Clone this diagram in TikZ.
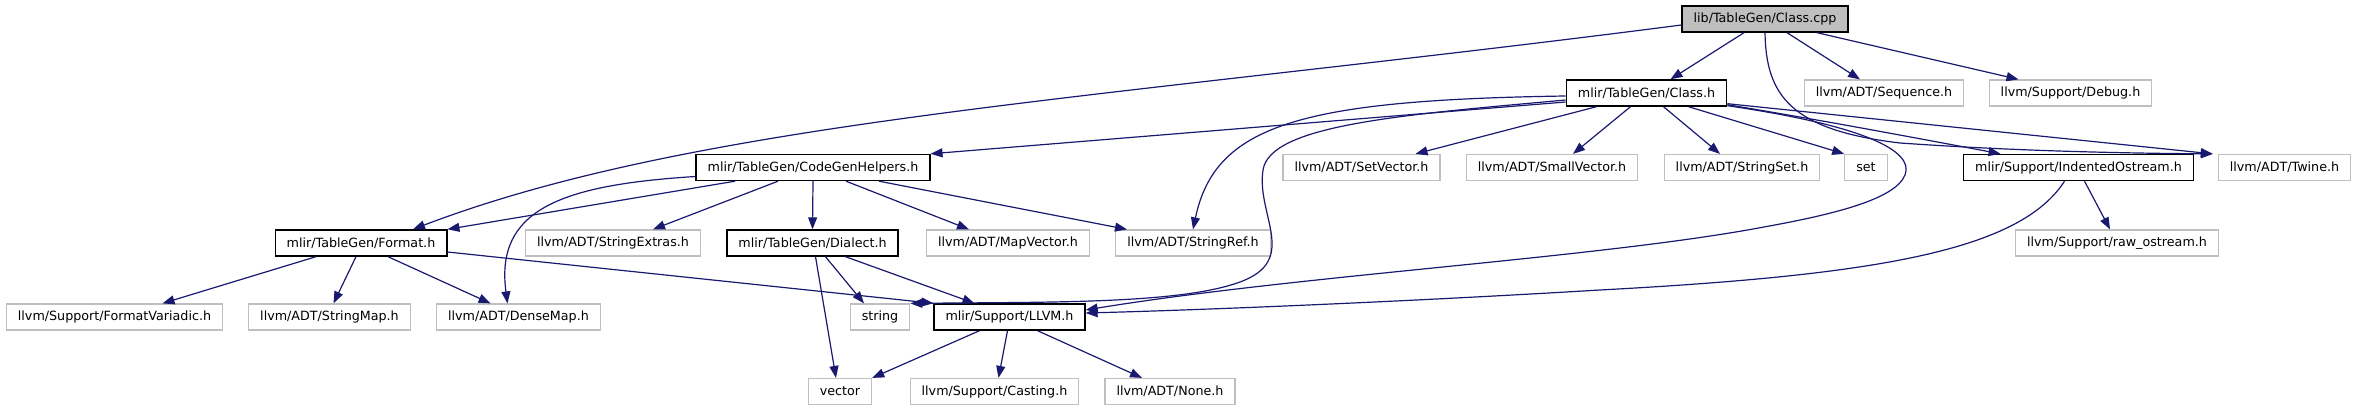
\documentclass[tikz,border=0pt]{standalone}
\usepackage{fontspec}
\setmainfont{DejaVu Sans}
\usetikzlibrary{arrows.meta}
\definecolor{edgeblue}{HTML}{191970}
\definecolor{boxgray}{HTML}{BFBFBF}

\begin{document}
\begin{tikzpicture}
[
	x=1pt, y=-1pt,
	file/.style={rectangle,fill=white,minimum height=26pt,inner xsep=11.5pt,inner ysep=2pt,font=\fontsize{12.7}{15}\selectfont},
	doc/.style={file,draw=black,line width=1.4pt},
	ext/.style={file,draw=boxgray,line width=1.2pt},
	cur/.style={doc,fill=boxgray},
	dep/.style={draw=edgeblue,line width=1.2pt,-{Triangle[length=12pt,width=9pt]}}
]
	\useasboundingbox (0,0) rectangle (2358,411);

	% files
	\node[cur] (cpp) at (1765,19) {lib/TableGen/Class.cpp};
	\node[doc] (classh) at (1646.5,93) {mlir/TableGen/Class.h};
	\node[ext] (seq) at (1884,93) {llvm/ADT/Sequence.h};
	\node[ext] (debug) at (2070.5,93) {llvm/Support/Debug.h};
	\node[doc] (cgh) at (813,167.5) {mlir/TableGen/CodeGenHelpers.h};
	\node[ext] (setvec) at (1361.5,167.5) {llvm/ADT/SetVector.h};
	\node[ext] (smallvec) at (1552,167.5) {llvm/ADT/SmallVector.h};
	\node[ext] (strset) at (1742,167.5) {llvm/ADT/StringSet.h};
	\node[ext] (set) at (1866,167.5) {set};
	\node[doc] (indent) at (2078.5,167.5) {mlir/Support/IndentedOstream.h};
	\node[ext] (twine) at (2284.5,167.5) {llvm/ADT/Twine.h};
	\node[doc] (format) at (361,243) {mlir/TableGen/Format.h};
	\node[ext] (strext) at (613,243) {llvm/ADT/StringExtras.h};
	\node[doc] (dialect) at (812.5,243) {mlir/TableGen/Dialect.h};
	\node[ext] (mapvec) at (1008,243) {llvm/ADT/MapVector.h};
	\node[ext] (strref) at (1193,243) {llvm/ADT/StringRef.h};
	\node[ext] (rawos) at (2117,243) {llvm/Support/raw\_ostream.h};
	\node[ext] (fmtvar) at (114.5,317) {llvm/Support/FormatVariadic.h};
	\node[ext] (strmap) at (329.5,317) {llvm/ADT/StringMap.h};
	\node[ext] (densemap) at (518.5,317) {llvm/ADT/DenseMap.h};
	\node[ext] (string) at (880,317) {string};
	\node[doc] (llvmh) at (1009.5,317) {mlir/Support/LLVM.h};
	\node[ext] (vector) at (840,391.5) {vector};
	\node[ext] (casting) at (994.5,391.5) {llvm/Support/Casting.h};
	\node[ext] (none) at (1170,391.5) {llvm/ADT/None.h};

	% includes of Class.cpp
	\draw[dep] ([yshift=-6pt]cpp.west) .. controls (1100,100) and (700,120) .. ([xshift=52pt]format.north);
	\draw[dep] ([xshift=-21pt]cpp.south) -- ([xshift=24pt]classh.north);
	\draw[dep] ([xshift=22pt]cpp.south) -- ([xshift=-24pt]seq.north);
	\draw[dep] ([xshift=52pt]cpp.south) -- ([xshift=-52pt]debug.north);
	\draw[dep] (cpp.south) .. controls (1766,95) and (1790,130) .. (1900,143) .. controls (2000,150) and (2100,153) .. ([xshift=-5pt]twine.north west);

	% includes of Class.h
	\draw[dep] ([yshift=-9pt]classh.west) -- (cgh.north east);
	\draw[dep] ([yshift=-3pt]classh.west) .. controls (1300,100) and (1215,125) .. (strref.north);
	\draw[dep] ([yshift=-7pt]classh.west) .. controls (1400,115) and (1270,125) .. (1263,170) .. controls (1256,215) and (1300,260) .. (1240,282) .. controls (1180,304) and (1050,302) .. (string.north east);
	\draw[dep] ([xshift=-50pt]classh.south) -- ([xshift=54pt]setvec.north);
	\draw[dep] ([xshift=-16pt]classh.south) -- ([xshift=21pt]smallvec.north);
	\draw[dep] ([xshift=17pt]classh.south) -- ([xshift=-22pt]strset.north);
	\draw[dep] ([xshift=42pt]classh.south) -- (set.north west);
	\draw[dep] ([yshift=2pt]classh.south east) .. controls (1820,120) and (1900,135) .. ([xshift=-78pt]indent.north);
	\draw[dep] ([yshift=3pt]classh.south east) -- ([xshift=-5pt]twine.north west);
	\draw[dep] ([yshift=1pt]classh.south east) .. controls (1860,125) and (1915,150) .. (1905,175) .. controls (1895,200) and (1830,215) .. (1764,227) .. controls (1600,258) and (1300,275) .. ([yshift=7pt]llvmh.east);

	% includes of CodeGenHelpers.h
	\draw[dep] ([xshift=-78pt]cgh.south) -- (format.north east);
	\draw[dep] ([yshift=-9pt]cgh.west) .. controls (560,185) and (495,210) .. ([xshift=-11pt]densemap.north);
	\draw[dep] ([xshift=-35pt]cgh.south) -- ([xshift=40pt]strext.north);
	\draw[dep] (cgh.south) -- (dialect.north);
	\draw[dep] ([xshift=33pt]cgh.south) -- ([xshift=-39pt]mapvec.north);
	\draw[dep] ([xshift=66pt]cgh.south) -- ([xshift=-66pt]strref.north);

	% includes of Format.h
	\draw[dep] ([xshift=-45pt]format.south) -- ([xshift=48pt]fmtvar.north);
	\draw[dep] ([xshift=-5pt]format.south) -- ([xshift=4pt]strmap.north);
	\draw[dep] ([xshift=27pt]format.south) -- ([xshift=-28pt]densemap.north);
	\draw[dep] ([yshift=-9pt]format.east) -- (llvmh.north west);

	% includes of Dialect.h
	\draw[dep] ([xshift=3pt]dialect.south) -- ([xshift=-4pt]vector.north);
	\draw[dep] ([xshift=13pt]dialect.south) -- ([xshift=-16pt]string.north);
	\draw[dep] ([xshift=33pt]dialect.south) -- ([xshift=-35pt]llvmh.north);

	% includes of LLVM.h
	\draw[dep] ([xshift=-30pt]llvmh.south) -- (vector.north east);
	\draw[dep] ([xshift=-2pt]llvmh.south) -- ([xshift=4pt]casting.north);
	\draw[dep] ([xshift=28pt]llvmh.south) -- ([xshift=-28pt]none.north);

	% includes of IndentedOstream.h
	\draw[dep] ([xshift=6pt]indent.south) -- ([xshift=-7pt]rawos.north);
	\draw[dep] ([xshift=-14pt]indent.south) .. controls (2020,250) and (1880,275) .. (1600,290) .. controls (1400,302) and (1200,310) .. ([yshift=4pt]llvmh.east);

\end{tikzpicture}
\end{document}
